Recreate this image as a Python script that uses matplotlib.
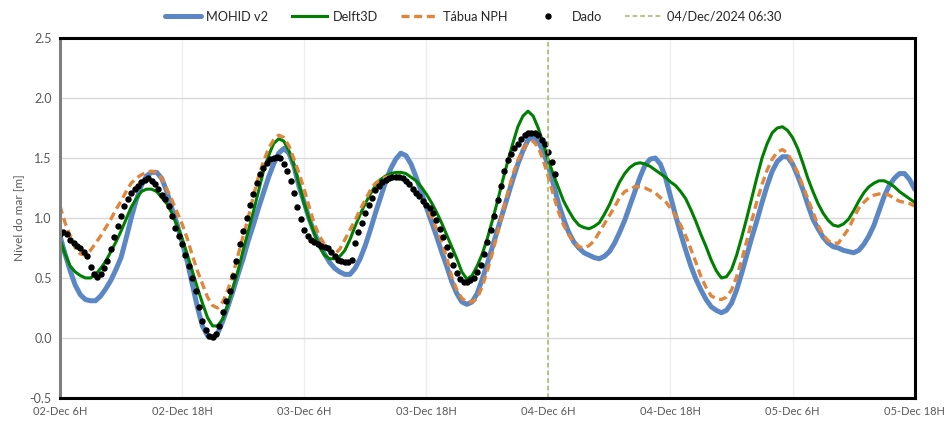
import matplotlib
matplotlib.use('Agg')
import matplotlib.pyplot as plt
import numpy as np

plt.rcParams['font.family'] = ['Lato', 'DejaVu Sans']

# model output every half hour, hours since 02-Dec 06:00
mohid = [0.85, 0.70, 0.56, 0.44, 0.36, 0.32, 0.31, 0.31, 0.35, 0.41,
         0.48, 0.57, 0.67, 0.83, 1.00, 1.15, 1.27, 1.35, 1.38, 1.38,
         1.33, 1.22, 1.08, 0.95, 0.80, 0.64, 0.45, 0.26, 0.10, 0.02,
         0.00, 0.04, 0.14, 0.26, 0.39, 0.53, 0.66, 0.81, 0.94, 1.08,
         1.21, 1.34, 1.45, 1.54, 1.58, 1.54, 1.43, 1.26, 1.13, 0.99,
         0.88, 0.78, 0.70, 0.63, 0.58, 0.55, 0.53, 0.53, 0.58, 0.66,
         0.77, 0.90, 1.04, 1.17, 1.30, 1.41, 1.49, 1.54, 1.52, 1.45,
         1.34, 1.22, 1.09, 0.97, 0.85, 0.72, 0.60, 0.47, 0.37, 0.30,
         0.28, 0.30, 0.37, 0.49, 0.62, 0.76, 0.90, 1.04, 1.18, 1.32,
         1.45, 1.56, 1.65, 1.68, 1.64, 1.55, 1.43, 1.28, 1.12, 0.99,
         0.88, 0.80, 0.75, 0.71, 0.69, 0.67, 0.66, 0.68, 0.72, 0.79,
         0.88, 0.98, 1.10, 1.22, 1.34, 1.44, 1.49, 1.50, 1.45, 1.34,
         1.18, 1.02, 0.87, 0.73, 0.60, 0.49, 0.40, 0.32, 0.26, 0.23,
         0.21, 0.23, 0.29, 0.40, 0.54, 0.69, 0.84, 0.98, 1.13, 1.27,
         1.39, 1.47, 1.51, 1.51, 1.45, 1.35, 1.24, 1.11, 0.99, 0.91,
         0.84, 0.79, 0.76, 0.75, 0.73, 0.72, 0.71, 0.73, 0.78, 0.85,
         0.94, 1.06, 1.18, 1.27, 1.33, 1.37, 1.37, 1.32, 1.24]

delft = [0.82, 0.70, 0.60, 0.55, 0.52, 0.50, 0.50, 0.53, 0.58, 0.64,
         0.72, 0.80, 0.89, 0.99, 1.09, 1.16, 1.22, 1.24, 1.24, 1.22,
         1.17, 1.12, 1.04, 0.94, 0.83, 0.70, 0.56, 0.42, 0.29, 0.17,
         0.10, 0.10, 0.16, 0.28, 0.42, 0.56, 0.73, 0.89, 1.05, 1.22,
         1.39, 1.52, 1.62, 1.66, 1.64, 1.56, 1.44, 1.28, 1.12, 0.99,
         0.87, 0.76, 0.69, 0.66, 0.66, 0.68, 0.73, 0.82, 0.93, 1.03,
         1.12, 1.20, 1.27, 1.32, 1.35, 1.37, 1.38, 1.38, 1.37, 1.34,
         1.31, 1.26, 1.20, 1.13, 1.05, 0.96, 0.86, 0.76, 0.66, 0.55,
         0.49, 0.52, 0.60, 0.70, 0.83, 0.98, 1.14, 1.31, 1.47, 1.62,
         1.76, 1.85, 1.89, 1.85, 1.75, 1.62, 1.48, 1.36, 1.25, 1.14,
         1.06, 0.99, 0.94, 0.92, 0.91, 0.93, 0.96, 1.03, 1.11, 1.21,
         1.30, 1.37, 1.42, 1.45, 1.46, 1.45, 1.43, 1.40, 1.37, 1.34,
         1.30, 1.27, 1.22, 1.16, 1.07, 0.97, 0.86, 0.76, 0.65, 0.56,
         0.50, 0.51, 0.57, 0.69, 0.84, 1.00, 1.17, 1.34, 1.50, 1.62,
         1.71, 1.75, 1.76, 1.73, 1.67, 1.58, 1.46, 1.33, 1.22, 1.12,
         1.04, 0.98, 0.94, 0.93, 0.95, 0.99, 1.06, 1.14, 1.21, 1.26,
         1.29, 1.31, 1.31, 1.29, 1.26, 1.22, 1.19, 1.16, 1.13]

tabua = [1.10, 0.96, 0.85, 0.75, 0.70, 0.69, 0.73, 0.79, 0.85, 0.92,
         0.99, 1.07, 1.14, 1.22, 1.29, 1.33, 1.36, 1.38, 1.39, 1.38,
         1.33, 1.24, 1.15, 1.05, 0.95, 0.83, 0.69, 0.56, 0.45, 0.34,
         0.27, 0.25, 0.30, 0.40, 0.53, 0.69, 0.85, 1.00, 1.18, 1.34,
         1.47, 1.58, 1.65, 1.69, 1.67, 1.60, 1.49, 1.37, 1.24, 1.09,
         0.95, 0.85, 0.78, 0.72, 0.70, 0.74, 0.82, 0.90, 0.98, 1.07,
         1.15, 1.23, 1.29, 1.32, 1.34, 1.35, 1.35, 1.34, 1.31, 1.27,
         1.22, 1.16, 1.09, 1.01, 0.91, 0.80, 0.67, 0.51, 0.40, 0.33,
         0.30, 0.30, 0.33, 0.43, 0.56, 0.71, 0.87, 1.04, 1.21, 1.36,
         1.48, 1.57, 1.63, 1.64, 1.59, 1.48, 1.34, 1.19, 1.05, 0.94,
         0.86, 0.80, 0.76, 0.75, 0.77, 0.81, 0.88, 0.95, 1.02, 1.09,
         1.17, 1.22, 1.24, 1.26, 1.26, 1.25, 1.23, 1.21, 1.17, 1.14,
         1.08, 1.02, 0.94, 0.85, 0.74, 0.63, 0.51, 0.42, 0.35, 0.33,
         0.32, 0.34, 0.40, 0.51, 0.65, 0.81, 0.98, 1.14, 1.28, 1.40,
         1.49, 1.55, 1.57, 1.54, 1.46, 1.38, 1.27, 1.16, 1.05, 0.94,
         0.86, 0.81, 0.79, 0.79, 0.85, 0.91, 1.00, 1.08, 1.13, 1.17,
         1.19, 1.20, 1.20, 1.19, 1.16, 1.14, 1.13, 1.12, 1.10]
model_hours = [k * 0.5 for k in range(len(mohid))]

# observations every 20 minutes
dado = [0.87, 0.88, 0.87, 0.82, 0.79, 0.77, 0.75, 0.72, 0.68, 0.59, 0.53, 0.51,
        0.53, 0.58, 0.64, 0.74, 0.84, 0.93, 1.02, 1.10, 1.16, 1.21, 1.24, 1.27,
        1.30, 1.32, 1.33, 1.31, 1.28, 1.24, 1.19, 1.16, 1.10, 1.02, 0.92, 0.85,
        0.78, 0.69, 0.60, 0.50, 0.39, 0.26, 0.14, 0.07, 0.02, 0.01, 0.03, 0.10,
        0.22, 0.31, 0.39, 0.52, 0.64, 0.78, 0.89, 1.00, 1.11, 1.20, 1.29, 1.37,
        1.42, 1.46, 1.49, 1.50, 1.51, 1.50, 1.45, 1.39, 1.31, 1.21, 1.09, 0.99,
        0.90, 0.85, 0.82, 0.80, 0.78, 0.77, 0.76, 0.75, 0.72, 0.68, 0.65, 0.64,
        0.63, 0.63, 0.65, 0.79, 0.88, 0.96, 1.04, 1.11, 1.17, 1.23, 1.27, 1.30,
        1.32, 1.33, 1.34, 1.34, 1.34, 1.33, 1.31, 1.28, 1.24, 1.21, 1.18, 1.14,
        1.11, 1.08, 1.04, 0.98, 0.91, 0.84, 0.76, 0.69, 0.61, 0.54, 0.49, 0.47,
        0.47, 0.48, 0.50, 0.55, 0.61, 0.70, 0.80, 0.90, 1.02, 1.15, 1.27, 1.39,
        1.48, 1.53, 1.58, 1.62, 1.66, 1.69, 1.71, 1.71, 1.71, 1.69, 1.65, 1.62,
        1.55, 1.47, 1.37]
dado_hours = [k / 3 for k in range(len(dado))]

tick_hours = [0, 12, 24, 36, 48, 60, 72, 84]
tick_labels = ['02-Dec 6H', '02-Dec 18H', '03-Dec 6H', '03-Dec 18H',
               '04-Dec 6H', '04-Dec 18H', '05-Dec 6H', '05-Dec 18H']
marker_hour = 48.0
marker_label = '04/Dec/2024 06:30'

fig = plt.figure(figsize=(9.46, 4.22), dpi=100)
ax = fig.add_axes([0.0634, 0.057, 0.9035, 0.853])

ax.plot(model_hours, mohid, color='#5b87c5', lw=3.6, label='MOHID v2',
        solid_capstyle='round', solid_joinstyle='round')
ax.plot(model_hours, delft, color='#008000', lw=2.2, label='Delft3D',
        solid_joinstyle='round')
ax.plot(model_hours, tabua, color='#e0853a', lw=2.4, dashes=(2.4, 1.4),
        label='Tábua NPH')
ax.plot(dado_hours, dado, 'o', color='black', ms=3.6, label='Dado')
ax.axvline(marker_hour, color='#9bbb59', lw=1.1, dashes=(3, 2),
           label=marker_label)

ax.set_xlim(0, 84)
ax.set_ylim(-0.5, 2.5)
ax.set_xticks(tick_hours)
ax.set_xticklabels(tick_labels, fontsize=8)
yt = np.arange(-0.5, 2.51, 0.5)
ax.set_yticks(yt)
ax.set_yticklabels(['{0:.1f}'.format(v) for v in yt], fontsize=9)
ax.tick_params(length=0, colors='#595959', pad=6)
ax.set_ylabel('Nível do mar [m]', fontsize=8.5, color='#595959', labelpad=4)

ax.grid(axis='y', color='#d9d9d9', lw=1)
ax.grid(axis='x', color='#efefef', lw=1)
ax.set_axisbelow(True)

for side in ['top', 'right', 'bottom']:
    ax.spines[side].set_color('black')
    ax.spines[side].set_linewidth(2.2)
ax.spines['left'].set_color('#7f7f7f')
ax.spines['left'].set_linewidth(2.2)

fig.legend(loc='center', bbox_to_anchor=(0.5, 0.96), ncol=5, frameon=False,
           fontsize=9.2, handlelength=2.8, columnspacing=1.8, handletextpad=0.45,
           labelcolor='#262626')

fig.savefig('out.png', dpi=100)
